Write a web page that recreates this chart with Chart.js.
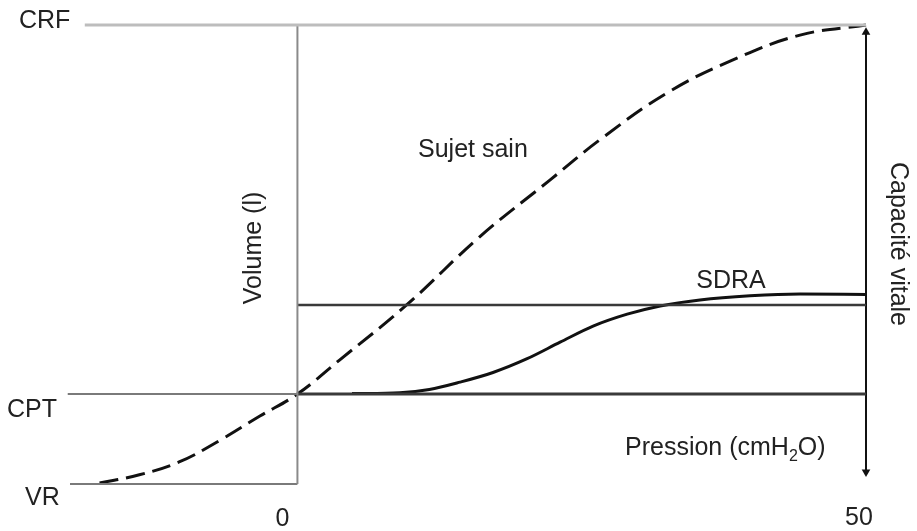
<!DOCTYPE html>
<html>
<head>
<meta charset="utf-8">
<script src="https://cdn.jsdelivr.net/npm/chart.js@4"></script>
<style>
  html, body { margin: 0; padding: 0; background: #fff; }
  #wrap { width: 917px; height: 531px; position: relative; }
</style>
</head>
<body>
<div id="wrap"><canvas id="chart"></canvas></div>
<script>
// Courbes pression-volume
const pressionSain = [-17.4, -13.9, -10.4, -6.9, -3.3, 0, 3.7, 9.6, 16, 22.2, 26.6, 32.5, 38.3, 44.2, 50];
const volumeSain   = [0.2, 2, 4.8, 9.4, 14.8, 19.6, 27, 39, 53.8, 66.2, 75, 85.2, 92.4, 97.8, 100];

const pressionSdra = [4.8, 9.0, 11.6, 14.3, 17.2, 20.2, 23.1, 26.0, 29.0, 31.9, 35.4, 39.8, 44.2, 50];
const volumeSdra   = [19.7, 19.9, 20.6, 22.2, 24.3, 27.3, 30.9, 34.4, 37.0, 38.8, 40.1, 41.0, 41.4, 41.3];

// niveaux de volume
const niveauVR = 0;
const niveauCPT = 19.6;
const niveauSdra = 39;
const niveauCRF = 100;

const xTicks = [0, 50];
const pressionMin = -20;
const pressionMax = 50;

const toPoints = (xs, ys) => xs.map((x, i) => ({ x: x, y: ys[i] }));
const seg = (x0, y0, x1, y1) => [{ x: x0, y: y0 }, { x: x1, y: y1 }];

function ligne(data, color, width, extra) {
    return Object.assign({
        data: data,
        showLine: true,
        borderColor: color,
        borderWidth: width,
        pointRadius: 0,
        fill: false,
        clip: false
    }, extra || {});
}

const labelsPlugin = {
    id: 'labels',
    afterDraw(chart) {
        const ctx = chart.ctx;
        const x = chart.scales.x, y = chart.scales.y;
        const font = '25px "Liberation Sans", Arial, sans-serif';
        ctx.save();
        ctx.fillStyle = '#222';
        ctx.font = font;
        ctx.textBaseline = 'alphabetic';

        ctx.textAlign = 'left';
        ctx.fillText('CRF', 19, y.getPixelForValue(niveauCRF) + 3);
        ctx.fillText('CPT', 7, y.getPixelForValue(niveauCPT) + 23);
        ctx.fillText('VR', 25, y.getPixelForValue(niveauVR) + 21);

        ctx.textAlign = 'center';
        ctx.fillText(String(xTicks[0]), x.getPixelForValue(xTicks[0]) - 15, 526);
        ctx.fillText(String(xTicks[1]), x.getPixelForValue(xTicks[1]) - 7, 525);

        ctx.fillText('SDRA', 731, 288);
        ctx.textAlign = 'left';
        ctx.fillText('Sujet sain', 418, 157);

        // Pression (cmH2O) avec indice
        let px = 625;
        const py = 455;
        ctx.fillText('Pression (cmH', px, py);
        px += ctx.measureText('Pression (cmH').width;
        ctx.font = '16px "Liberation Sans", Arial, sans-serif';
        ctx.fillText('2', px, py + 6);
        px += ctx.measureText('2').width;
        ctx.font = font;
        ctx.fillText('O)', px, py);

        // titres verticaux
        ctx.textAlign = 'center';
        ctx.textBaseline = 'middle';
        ctx.save();
        ctx.translate(254, 248);
        ctx.rotate(-Math.PI / 2);
        ctx.fillText('Volume (l)', 0, 0);
        ctx.restore();

        ctx.save();
        ctx.translate(898, 244);
        ctx.rotate(Math.PI / 2);
        ctx.fillText('Capacité vitale', 0, 0);
        ctx.restore();

        ctx.restore();
    }
};

new Chart(document.getElementById('chart'), {
    type: 'scatter',
    data: {
        datasets: [
            ligne(seg(-18.7, niveauCRF, pressionMax, niveauCRF), '#bdbdbd', 3),
            ligne(seg(0, niveauVR, 0, niveauCRF), '#8a8a8a', 2),
            ligne(seg(-20.2, niveauCPT, 0, niveauCPT), '#7a7a7a', 2),
            ligne(seg(pressionMin, niveauVR, 0, niveauVR), '#7a7a7a', 2),
            ligne(seg(0, niveauCPT, pressionMax, niveauCPT), '#3a3a3a', 3),
            ligne(seg(0, niveauSdra, pressionMax, niveauSdra), '#3a3a3a', 2.5),
            ligne(seg(pressionMax, 2.6, pressionMax, niveauCRF - 1.6), '#111', 2, {
                pointRadius: 5,
                pointStyle: 'triangle',
                pointRotation: [180, 0],
                pointBackgroundColor: '#111',
                pointBorderWidth: 0
            }),
            ligne(toPoints(pressionSdra, volumeSdra), '#111', 3, {
                cubicInterpolationMode: 'monotone'
            }),
            ligne(toPoints(pressionSain, volumeSain), '#111', 3, {
                tension: 0.4,
                borderDash: [19, 8]
            })
        ]
    },
    options: {
        responsive: true,
        maintainAspectRatio: false,
        animation: false,
        layout: {
            padding: { left: 70, right: 51, top: 25, bottom: 47 }
        },
        plugins: {
            legend: { display: false },
            tooltip: { enabled: false }
        },
        scales: {
            x: { type: 'linear', min: pressionMin, max: pressionMax, display: false },
            y: { type: 'linear', min: 0, max: 100, display: false }
        }
    },
    plugins: [labelsPlugin]
});
</script>
</body>
</html>
